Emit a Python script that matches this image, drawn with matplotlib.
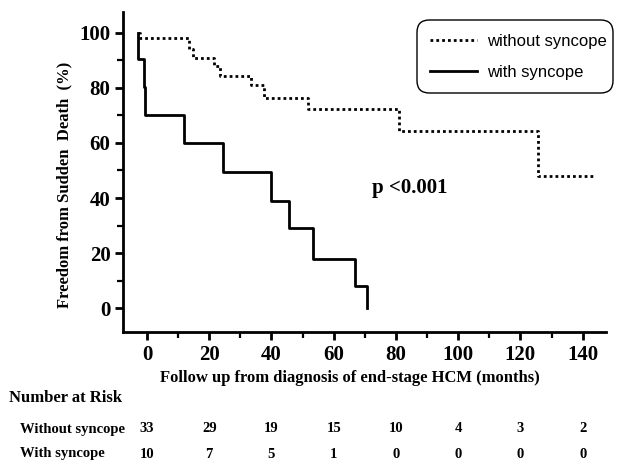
import matplotlib
matplotlib.use("Agg")
import matplotlib.pyplot as plt
from matplotlib.patches import FancyBboxPatch
from matplotlib.transforms import blended_transform_factory

# ------------------------------------------------------------
# data
# ------------------------------------------------------------
without_t = [-2.9, -2.2, 13.5, 14.7, 21.5, 23.4, 33.3, 37.5, 51.6, 81.0, 125.6, 144.0]
without_s = [100, 98, 94, 91, 88, 84.5, 81, 76.5, 72.5, 64.5, 48, 48]

with_t = [-2.9, -2.8, -1.0, -0.5, 12.0, 24.3, 40.0, 45.5, 53.5, 66.7, 70.8]
with_s = [100, 90.5, 80.5, 70, 60, 49.5, 39, 29, 18, 8, 0]

risk_times = [0, 20, 40, 60, 80, 100, 120, 140]
risk_without = [33, 29, 19, 15, 10, 4, 3, 2]
risk_with = [10, 7, 5, 1, 0, 0, 0, 0]

xticks = [0, 20, 40, 60, 80, 100, 120, 140]
yticks = [0, 20, 40, 60, 80, 100]

serif = "Liberation Serif"
sans = "Liberation Sans"
W, H = 617, 463

fig = plt.figure(figsize=(6.17, 4.63), dpi=100)
ax = fig.add_axes([123 / W, 1 - 332 / H, (606 - 123) / W, (332 - 12) / H])

ax.step(without_t, without_s, where="post", color="black", linestyle=(0, (1, 1.1)),
        linewidth=2.0, label="without syncope")
ax.step(with_t, with_s, where="post", color="black", linestyle="-",
        linewidth=2.0, label="with syncope")

ax.set_xlim(-7.7, 147.5)
ax.set_ylim(-8.7, 107.6)
ax.set_xticks(xticks)
ax.set_yticks(yticks)
ax.set_xticks([x + 10 for x in xticks[:-1]], minor=True)
ax.set_yticks([y + 10 for y in yticks[:-1]], minor=True)
ax.set_xticklabels([str(v) for v in xticks], fontfamily=serif, fontweight="bold", fontsize=15)
ax.set_yticklabels([str(v) for v in yticks], fontfamily=serif, fontweight="bold", fontsize=15)
ax.tick_params(which="major", length=6, width=2, direction="out", pad=3)
ax.tick_params(which="minor", length=4, width=1.6, direction="out")

for side in ["top", "right"]:
    ax.spines[side].set_visible(False)
for side in ["left", "bottom"]:
    ax.spines[side].set_linewidth(2)

# axis titles
fig.text(64 / W, 1 - 185 / H, "Freedom from Sudden  Death  (%)", rotation=90,
         fontfamily=serif, fontweight="bold", fontsize=12, ha="center", va="center")
fig.text(350 / W, 1 - 378 / H, "Follow up from diagnosis of end-stage HCM (months)",
         fontfamily=serif, fontweight="bold", fontsize=12, ha="center", va="center")

fig.text(372 / W, 1 - 188 / H, "p <0.001", fontfamily=serif, fontweight="bold",
         fontsize=15, ha="left", va="center")

# legend without frame, rounded box drawn separately
leg = ax.legend(loc="upper left", bbox_to_anchor=(430 / W, 1 - 34 / H),
                bbox_transform=fig.transFigure, borderaxespad=0, borderpad=0,
                frameon=False, handlelength=2.8, handletextpad=0.65,
                labelspacing=0.98, prop={"family": sans, "size": 12})
box = FancyBboxPatch((417 / W, 1 - 93 / H), (613 - 417) / W, (93 - 20) / H,
                     boxstyle="round,pad=0,rounding_size=0.02",
                     mutation_aspect=W / H, transform=fig.transFigure,
                     facecolor="none", edgecolor="black", linewidth=1.0)
fig.patches.append(box)

# number at risk table
fig.text(9 / W, 1 - 398 / H, "Number at Risk", fontfamily=serif, fontweight="bold",
         fontsize=12, ha="left", va="center")
fig.text(20 / W, 1 - 429 / H, "Without syncope", fontfamily=serif, fontweight="bold",
         fontsize=10.5, ha="left", va="center")
fig.text(20 / W, 1 - 454 / H, "With syncope", fontfamily=serif, fontweight="bold",
         fontsize=10.5, ha="left", va="center")

trans = blended_transform_factory(ax.transData, fig.transFigure)
for t, a, b in zip(risk_times, risk_without, risk_with):
    ax.text(t, 1 - 429 / H, str(a), transform=trans, fontfamily=serif,
            fontweight="bold", fontsize=10.5, ha="center", va="center", clip_on=False)
    ax.text(t, 1 - 454 / H, str(b), transform=trans, fontfamily=serif,
            fontweight="bold", fontsize=10.5, ha="center", va="center", clip_on=False)

fig.savefig("out.png", dpi=100)
